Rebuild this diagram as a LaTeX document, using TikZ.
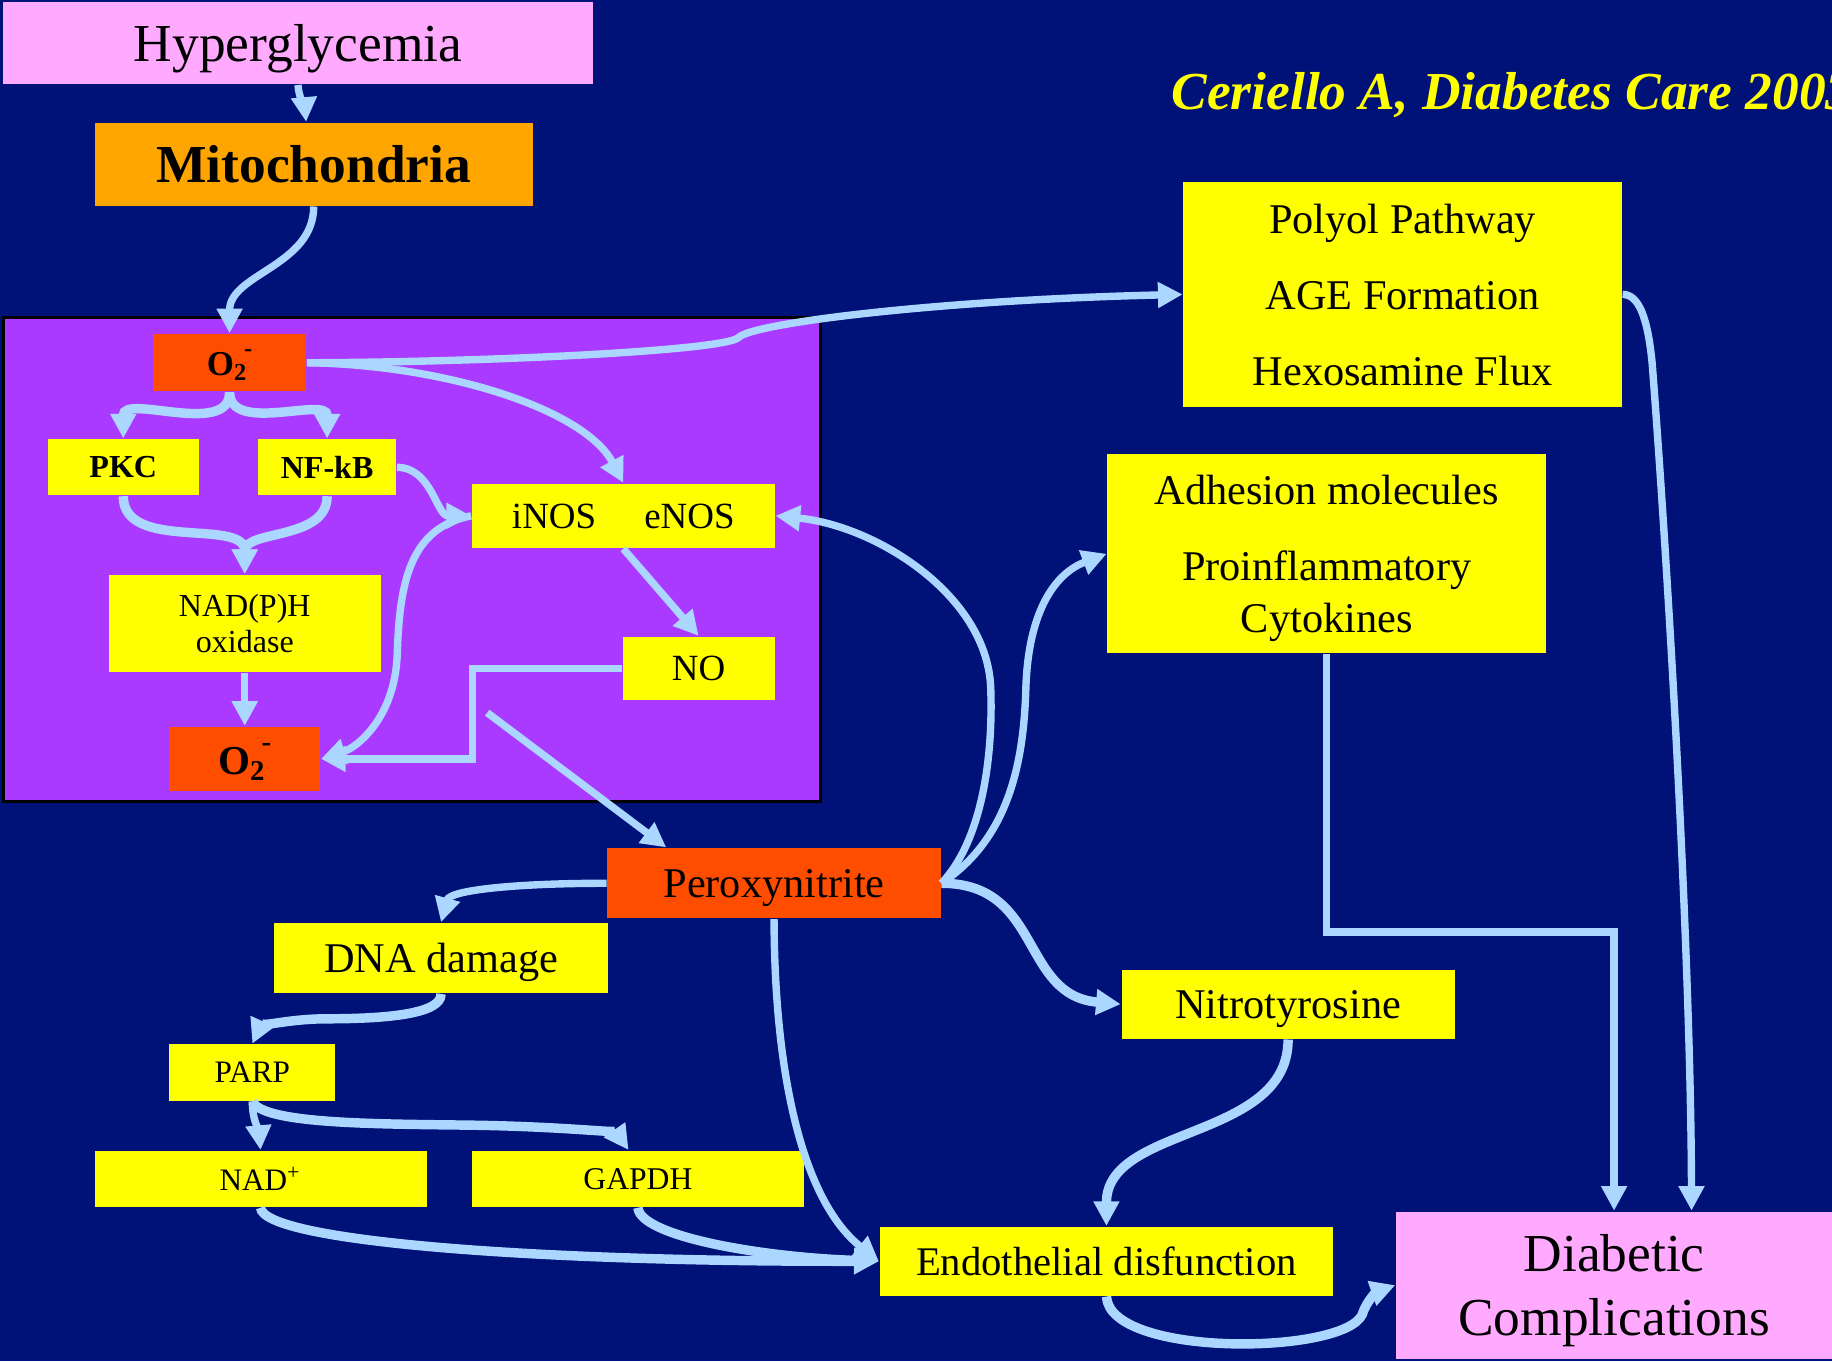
\documentclass[tikz,border=0pt]{standalone}
\usepackage{fontspec}
\setmainfont{Liberation Serif}
\usetikzlibrary{arrows.meta,calc}

\definecolor{slidebg}{RGB}{0,17,119}
\definecolor{boxyellow}{RGB}{255,255,0}
\definecolor{boxred}{RGB}{255,77,0}
\definecolor{boxorange}{RGB}{255,165,0}
\definecolor{boxpink}{RGB}{255,170,255}
\definecolor{rospurple}{RGB}{170,58,255}
\definecolor{flowblue}{RGB}{170,214,255}

\newcommand{\otwo}{O\textsubscript{2}\kern-0.12em\raisebox{0.55em}{\scalebox{0.7}{-}}}

\tikzset{
  box/.style={inner sep=0pt, align=center, text=black, text depth=0pt},
  ybox/.style={box, fill=boxyellow},
  rbox/.style={box, fill=boxred},
  pbox/.style={box, fill=boxpink},
  flow/.style={draw=flowblue, line width=1.8pt, -{Triangle[length=6pt,width=6pt]}},
  fatflow/.style={flow, line width=2.3pt},
}

\begin{document}
\begin{tikzpicture}[x=0.01cm, y=-0.01cm]

% Slide
\useasboundingbox (0,0) rectangle (1568,1165);
\clip (0,0) rectangle (1568,1165);
\fill[slidebg] (0,0) rectangle (1568,1165);

% Header
\node[pbox, minimum width=5.04cm, minimum height=0.70cm, font=\fontsize{13}{15}\selectfont] (hyper) at (255,37) {Hyperglycemia};
\node[box, fill=boxorange, minimum width=3.75cm, minimum height=0.71cm, font=\bfseries\fontsize{13}{15}\selectfont] (mito) at (268.5,140.5) {Mitochondria};
\node[anchor=west, inner sep=0pt, text=boxyellow, text depth=0pt, font=\bfseries\itshape\fontsize{13}{15}\selectfont] (cite) at (1002,78) {Ceriello A, Diabetes Care 2003};

% Oxidative stress panel
\node[box, draw=black, line width=0.6pt, fill=rospurple, minimum width=6.99cm, minimum height=4.14cm] (ros) at (352.5,479) {};
\node[rbox, minimum width=1.31cm, minimum height=0.49cm, font=\bfseries\fontsize{8.5}{10}\selectfont] (oxtop) at (196.5,310.5) {\otwo};
\node[ybox, minimum width=1.29cm, minimum height=0.48cm, font=\bfseries\fontsize{7.8}{9}\selectfont] (pkc) at (105.5,400) {PKC};
\node[ybox, minimum width=1.18cm, minimum height=0.48cm, font=\bfseries\fontsize{7.8}{9}\selectfont] (nfkb) at (280,400) {NF-kB};
\node[ybox, minimum width=2.59cm, minimum height=0.55cm, font=\fontsize{9}{10}\selectfont] (nos) at (533.5,441.5) {iNOS\hspace{1.3em}eNOS};
\node[ybox, minimum width=2.33cm, minimum height=0.83cm, font=\fontsize{7.8}{8.8}\selectfont] (nadph) at (209.5,533.5) {NAD(P)H\\oxidase};
\node[ybox, minimum width=1.30cm, minimum height=0.54cm, font=\fontsize{9}{10}\selectfont] (no) at (598,572) {NO};
\node[rbox, minimum width=1.29cm, minimum height=0.55cm, font=\bfseries\fontsize{10}{11}\selectfont] (oxbot) at (209.5,649.5) {\otwo};

% Downstream
\node[rbox, minimum width=2.85cm, minimum height=0.60cm, font=\fontsize{10.3}{12}\selectfont] (peroxy) at (662.5,756) {Peroxynitrite};
\node[ybox, minimum width=2.85cm, minimum height=0.60cm, font=\fontsize{10.3}{12}\selectfont] (dna) at (377.5,820) {DNA damage};
\node[ybox, minimum width=1.42cm, minimum height=0.48cm, font=\fontsize{7.6}{9}\selectfont] (parp) at (216,918) {PARP};
\node[ybox, minimum width=2.84cm, minimum height=0.48cm, font=\fontsize{7.6}{9}\selectfont] (nad) at (223,1009) {NAD\textsuperscript{+}};
\node[ybox, minimum width=2.84cm, minimum height=0.48cm, font=\fontsize{7.7}{9}\selectfont] (gapdh) at (546,1009) {GAPDH};
\node[ybox, minimum width=3.88cm, minimum height=0.59cm, font=\fontsize{9.9}{12}\selectfont] (endo) at (947,1079.5) {Endothelial disfunction};
\node[ybox, minimum width=2.85cm, minimum height=0.59cm, font=\fontsize{10.3}{12}\selectfont] (nitro) at (1102.5,859.5) {Nitrotyrosine};
\node[ybox, minimum width=3.75cm, minimum height=1.92cm, font=\fontsize{10.3}{18.5}\selectfont] (polyol) at (1200.5,252) {Polyol Pathway\\AGE Formation\\Hexosamine Flux};
\node[ybox, minimum width=3.75cm, minimum height=1.70cm, font=\fontsize{10.3}{12.5}\selectfont] (adhesion) at (1135.5,474) {Adhesion molecules\\[6pt]Proinflammatory\\Cytokines};
\node[pbox, minimum width=3.73cm, minimum height=1.26cm, font=\fontsize{13}{15.7}\selectfont] (diab) at (1381.5,1100) {Diabetic\\Complications};

% Mitochondrial superoxide
\draw[flow] (hyper.south) to[out=-85,in=95] ([xshift=-0.065cm]mito.north);
\draw[flow] (mito.south) to[out=-90,in=90] (oxtop.north);
\draw[flow] (oxtop.east) .. controls (420,310) and (620,300) .. (632,289)
            .. controls (642,277) and (800,257) .. (polyol.west);
\draw[flow] (oxtop.east) .. controls (380,312) and (500,350) .. (nos.north);

% Inside the panel
\draw[fatflow] (oxtop.south) to[out=-90,in=90] (pkc.north);
\draw[fatflow] (oxtop.south) to[out=-90,in=90] (nfkb.north);
\draw[fatflow] (pkc.south) to[out=-90,in=90] (nadph.north);
\draw[fatflow] (nfkb.south) to[out=-90,in=90] (nadph.north);
\draw[flow] (nfkb.east) to[out=0,in=180] (nos.west);
\draw[flow] (nos.west) .. controls (350,452) and (342,500) .. (340,560)
            .. controls (338,615) and (305,640) .. (oxbot.east);
\draw[flow] (no.west) -- ++(-128,0) |- (oxbot.east);
\draw[flow] (nos.south) -- (no.north);
\draw[flow] (nadph.south) -- (oxbot.north);

% Peroxynitrite and its targets
\coordinate (onoo) at (417,610);
\draw[flow] (onoo) -- ($(peroxy.north west)+(51,0)$);
\draw[flow] (peroxy.west) .. controls (440,756) and (385,762) .. (dna.north);
\draw[fatflow] (dna.south) .. controls (378,868) and (330,872) .. (280,872)
               .. controls (245,872) and (222,880) .. (parp.north);
\draw[flow] (parp.south) to[out=-90,in=95] (nad.north);
\draw[fatflow] (parp.south) .. controls (225,962) and (320,962) .. (400,963)
               .. controls (480,964) and (528,970) .. ([xshift=-0.08cm]gapdh.north);
\draw[fatflow] (nad.south) .. controls (226,1062) and (450,1080) .. (endo.west);
\draw[fatflow] (gapdh.south) .. controls (548,1058) and (650,1076) .. (endo.west);
\draw[flow] (peroxy.south) .. controls (663,930) and (690,1030) .. (endo.west);
\draw[fatflow] (peroxy.east) to[out=0,in=175,looseness=1.2] (nitro.west);
\draw[flow] (peroxy.east) .. controls (840,720) and (850,650) .. (848,590)
            .. controls (846,510) and (750,450) .. (nos.east);
\draw[flow] (peroxy.east) .. controls (860,720) and (876,660) .. (878,590)
            .. controls (880,520) and (905,490) .. (adhesion.west);

% Towards complications
\draw[flow] (adhesion.south) -- ++(0,238) -| (diab.north);
\draw[flow] (polyol.east) .. controls (1402,252) and (1410,270) .. (1414,310)
            .. controls (1425,450) and (1447,800) .. ($(diab.north east)+(-121,0)$);
\draw[fatflow] (nitro.south) to[out=-90,in=90] (endo.north);
\draw[fatflow] (endo.south) .. controls (950,1162) and (1150,1160) .. (1166,1125)
               .. controls (1170,1112) and (1180,1105) .. (diab.west);

\end{tikzpicture}
\end{document}
